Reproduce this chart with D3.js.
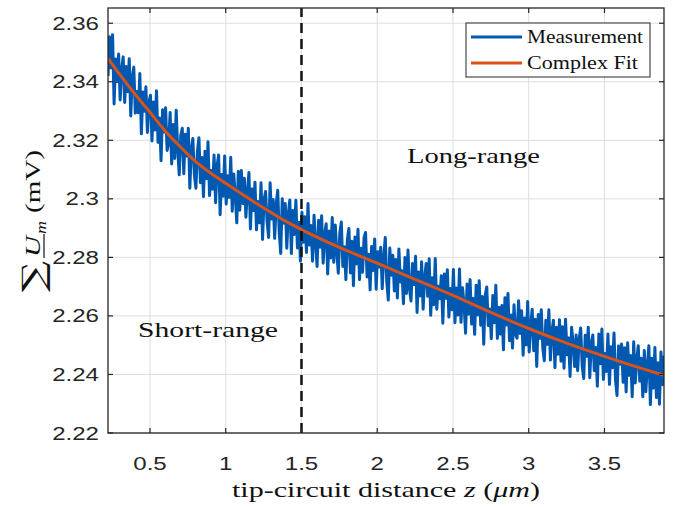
<!DOCTYPE html>
<html>
<head>
<meta charset="utf-8">
<script src="https://cdn.jsdelivr.net/npm/d3@7"></script>
<style>
  body { margin: 0; background: #fff; }
  svg { display: block; }
</style>
</head>
<body>
<div id="chart"></div>
<script>
// sampling of the measurement: first z and step (um)
const xStart = 0.223;
const xStep = 0.01;

const measurement = [
  2.3420, 2.3554, 2.3447, 2.3561, 2.3324, 2.3478, 2.3401, 2.3495, 2.3338, 2.3442,
  2.3485, 2.3329, 2.3452, 2.3366, 2.3479, 2.3283, 2.3416, 2.3450, 2.3293, 2.3367,
  2.3294, 2.3428, 2.3222, 2.3365, 2.3299, 2.3383, 2.3227, 2.3331, 2.3354, 2.3198,
  2.3331, 2.3235, 2.3369, 2.3193, 2.3276, 2.3130, 2.3304, 2.3228, 2.3311, 2.3165,
  2.3190, 2.3295, 2.3119, 2.3254, 2.3138, 2.3303, 2.3167, 2.3082, 2.3216, 2.3241,
  2.3086, 2.3221, 2.3146, 2.3241, 2.3036, 2.3171, 2.3206, 2.3081, 2.3036, 2.3161,
  2.3209, 2.3055, 2.3141, 2.3007, 2.3163, 2.3069, 2.3195, 2.3011, 2.3097, 2.3033,
  2.3150, 2.2987, 2.3113, 2.3150, 2.2946, 2.3083, 2.3009, 2.3146, 2.2982, 2.3079,
  2.3005, 2.3142, 2.2958, 2.3085, 2.3011, 2.2918, 2.3094, 2.2961, 2.3097, 2.2984,
  2.3070, 2.2937, 2.3024, 2.3090, 2.2897, 2.3034, 2.2960, 2.3057, 2.2894, 2.2991,
  2.2918, 2.3055, 2.2861, 2.2998, 2.3025, 2.2921, 2.2868, 2.3055, 2.2931, 2.2998,
  2.2865, 2.2982, 2.3029, 2.2886, 2.2813, 2.3000, 2.2917, 2.2984, 2.2831, 2.2948,
  2.2996, 2.2813, 2.2960, 2.2878, 2.2995, 2.2832, 2.2920, 2.2787, 2.2954, 2.2852,
  2.2939, 2.2817, 2.2984, 2.2842, 2.2909, 2.2787, 2.2944, 2.2852, 2.2769, 2.2927,
  2.2835, 2.2942, 2.2780, 2.2878, 2.2915, 2.2743, 2.2890, 2.2798, 2.2936, 2.2783,
  2.2911, 2.2818, 2.2746, 2.2884, 2.2921, 2.2769, 2.2836, 2.2724, 2.2862, 2.2899,
  2.2747, 2.2855, 2.2703, 2.2870, 2.2778, 2.2896, 2.2724, 2.2831, 2.2749, 2.2867,
  2.2885, 2.2733, 2.2811, 2.2689, 2.2837, 2.2755, 2.2863, 2.2691, 2.2819, 2.2767,
  2.2835, 2.2693, 2.2801, 2.2868, 2.2716, 2.2654, 2.2832, 2.2739, 2.2807, 2.2685,
  2.2793, 2.2661, 2.2829, 2.2716, 2.2754, 2.2642, 2.2800, 2.2677, 2.2825, 2.2693,
  2.2651, 2.2779, 2.2707, 2.2804, 2.2612, 2.2750, 2.2668, 2.2785, 2.2623, 2.2731,
  2.2779, 2.2667, 2.2795, 2.2602, 2.2730, 2.2638, 2.2796, 2.2623, 2.2701, 2.2659,
  2.2737, 2.2575, 2.2743, 2.2660, 2.2758, 2.2596, 2.2694, 2.2621, 2.2759, 2.2577,
  2.2695, 2.2603, 2.2760, 2.2578, 2.2696, 2.2643, 2.2541, 2.2709, 2.2606, 2.2724,
  2.2572, 2.2660, 2.2537, 2.2705, 2.2603, 2.2720, 2.2568, 2.2666, 2.2503, 2.2671,
  2.2699, 2.2567, 2.2624, 2.2522, 2.2670, 2.2577, 2.2705, 2.2523, 2.2630, 2.2538,
  2.2636, 2.2484, 2.2662, 2.2569, 2.2677, 2.2515, 2.2603, 2.2490, 2.2638, 2.2536,
  2.2524, 2.2652, 2.2540, 2.2618, 2.2466, 2.2593, 2.2501, 2.2649, 2.2477, 2.2565,
  2.2623, 2.2481, 2.2589, 2.2427, 2.2605, 2.2523, 2.2621, 2.2489, 2.2447, 2.2585,
  2.2503, 2.2621, 2.2449, 2.2547, 2.2585, 2.2423, 2.2561, 2.2469, 2.2587, 2.2445,
  2.2563, 2.2421, 2.2589, 2.2467, 2.2525, 2.2393, 2.2561, 2.2509, 2.2427, 2.2535,
  2.2413, 2.2521, 2.2559, 2.2428, 2.2386, 2.2534, 2.2462, 2.2561, 2.2389, 2.2507,
  2.2535, 2.2413, 2.2492, 2.2360, 2.2538, 2.2437, 2.2555, 2.2383, 2.2472, 2.2410,
  2.2538, 2.2366, 2.2495, 2.2423, 2.2542, 2.2380, 2.2328, 2.2497, 2.2435, 2.2504,
  2.2373, 2.2491, 2.2340, 2.2508, 2.2397, 2.2465, 2.2324, 2.2512, 2.2371, 2.2449,
  2.2498, 2.2377, 2.2455, 2.2324, 2.2482, 2.2341, 2.2430, 2.2498, 2.2297, 2.2455,
  2.2354, 2.2492, 2.2321, 2.2440, 2.2298, 2.2477, 2.2365, 2.2464
];

// complex fit, read at a few distances
const fitX = [0.223, 0.3, 0.4, 0.5, 0.6, 0.7, 0.8, 0.9, 1.0, 1.2, 1.4, 1.5, 1.75, 2.0,
              2.25, 2.5, 2.75, 3.0, 3.25, 3.5, 3.75, 3.893];
const fitY = [2.3480, 2.3425, 2.3358, 2.3296, 2.3232, 2.3178, 2.3128, 2.3088, 2.3053, 2.2985,
              2.2922, 2.2895, 2.2834, 2.2780, 2.2725, 2.2670, 2.2612, 2.2557, 2.2507, 2.2462,
              2.2420, 2.2397];

const xTicks = [0.5, 1, 1.5, 2, 2.5, 3, 3.5];
const yTicks = [2.22, 2.24, 2.26, 2.28, 2.3, 2.32, 2.34, 2.36];
const boundaryX = 1.5;
const seriesNames = ["Measurement", "Complex Fit"];
const seriesColors = ["#0058b0", "#d95319"];

const width = 681, height = 507;
const margin = { top: 8, right: 17, bottom: 74, left: 108 };
const axisColor = "#262626";
const sansFont = "'Liberation Sans', Arial, sans-serif";
const serifFont = "'Liberation Serif', 'DejaVu Serif', serif";

const svg = d3.select("#chart")
    .append("svg")
    .attr("width", width)
    .attr("height", height);

const x = d3.scaleLinear()
    .domain([0.2228, 3.893])
    .range([margin.left, width - margin.right]);

const y = d3.scaleLinear()
    .domain([2.22, 2.3652])
    .range([height - margin.bottom, margin.top]);

const x0 = margin.left, x1 = width - margin.right;
const y0 = height - margin.bottom, y1 = margin.top;

svg.append("clipPath")
    .attr("id", "plot-clip")
    .append("rect")
    .attr("x", x0)
    .attr("y", y1)
    .attr("width", x1 - x0)
    .attr("height", y0 - y1);

// grid
svg.append("g")
    .selectAll("line")
    .data(xTicks)
    .join("line")
    .attr("x1", d => x(d)).attr("x2", d => x(d))
    .attr("y1", y0).attr("y2", y1)
    .attr("stroke", "#dedede")
    .attr("stroke-width", 1);

svg.append("g")
    .selectAll("line")
    .data(yTicks)
    .join("line")
    .attr("x1", x0).attr("x2", x1)
    .attr("y1", d => y(d)).attr("y2", d => y(d))
    .attr("stroke", "#dedede")
    .attr("stroke-width", 1);

// series
const plot = svg.append("g").attr("clip-path", "url(#plot-clip)");

const measLine = d3.line()
    .x((d, i) => x(xStart + i * xStep))
    .y(d => y(d));

plot.append("path")
    .datum(measurement)
    .attr("d", measLine)
    .attr("fill", "none")
    .attr("stroke", seriesColors[0])
    .attr("stroke-width", 3)
    .attr("stroke-linejoin", "round");

const fitLine = d3.line()
    .x(d => x(d[0]))
    .y(d => y(d[1]))
    .curve(d3.curveMonotoneX);

plot.append("path")
    .datum(d3.zip(fitX, fitY))
    .attr("d", fitLine)
    .attr("fill", "none")
    .attr("stroke", seriesColors[1])
    .attr("stroke-width", 3);

// short/long range boundary
svg.append("line")
    .attr("x1", x(boundaryX)).attr("x2", x(boundaryX))
    .attr("y1", y0).attr("y2", y1)
    .attr("stroke", "#111")
    .attr("stroke-width", 2.5)
    .attr("stroke-dasharray", "10,6");

// box and inward ticks
svg.append("rect")
    .attr("x", x0).attr("y", y1)
    .attr("width", x1 - x0).attr("height", y0 - y1)
    .attr("fill", "none")
    .attr("stroke", axisColor)
    .attr("stroke-width", 1.3);

const tickLen = 5;
const ticks = svg.append("g").attr("stroke", axisColor).attr("stroke-width", 1.2);
xTicks.forEach(t => {
    ticks.append("line").attr("x1", x(t)).attr("x2", x(t)).attr("y1", y0).attr("y2", y0 - tickLen);
    ticks.append("line").attr("x1", x(t)).attr("x2", x(t)).attr("y1", y1).attr("y2", y1 + tickLen);
});
yTicks.forEach(t => {
    ticks.append("line").attr("x1", x0).attr("x2", x0 + tickLen).attr("y1", y(t)).attr("y2", y(t));
    ticks.append("line").attr("x1", x1).attr("x2", x1 - tickLen).attr("y1", y(t)).attr("y2", y(t));
});

// tick labels (the source figure is a little stretched sideways)
const stretch = 1.3;
svg.append("g")
    .selectAll("text")
    .data(yTicks)
    .join("text")
    .attr("transform", d => `translate(${x0 - 9},${y(d) + 6.5}) scale(${stretch},1)`)
    .attr("text-anchor", "end")
    .attr("font-family", sansFont)
    .attr("font-size", 18.5)
    .attr("fill", axisColor)
    .text(d => String(+d.toFixed(2)));

svg.append("g")
    .selectAll("text")
    .data(xTicks)
    .join("text")
    .attr("transform", d => `translate(${x(d)},${y0 + 37}) scale(${stretch},1)`)
    .attr("text-anchor", "middle")
    .attr("font-family", sansFont)
    .attr("font-size", 18.5)
    .attr("fill", axisColor)
    .text(d => String(d));

// x label
const xl = svg.append("text")
    .attr("x", 232)
    .attr("y", 497)
    .attr("font-family", serifFont)
    .attr("font-size", 21)
    .attr("fill", "#111")
    .attr("textLength", 308)
    .attr("lengthAdjust", "spacingAndGlyphs");
xl.append("tspan").text("tip-circuit distance ");
xl.append("tspan").attr("font-style", "italic").text("z");
xl.append("tspan").text(" (");
xl.append("tspan").attr("font-style", "italic").text("μm");
xl.append("tspan").text(")");

// y label
const yl = svg.append("g")
    .attr("transform", "translate(40,221) rotate(-90)")
    .attr("fill", "#111")
    .attr("font-family", serifFont);
yl.append("text")
    .attr("x", -71).attr("y", 4)
    .attr("font-family", "'DejaVu Serif', serif")
    .attr("font-size", 31)
    .attr("textLength", 31)
    .attr("lengthAdjust", "spacingAndGlyphs")
    .text("∑");
yl.append("text")
    .attr("x", -36).attr("y", 0)
    .attr("font-size", 22)
    .attr("font-style", "italic")
    .attr("textLength", 21)
    .attr("lengthAdjust", "spacingAndGlyphs")
    .text("U");
yl.append("line")
    .attr("x1", -37).attr("x2", -13)
    .attr("y1", 4).attr("y2", 4)
    .attr("stroke", "#111")
    .attr("stroke-width", 1.2);
yl.append("text")
    .attr("x", -13).attr("y", 6)
    .attr("font-size", 15)
    .attr("font-style", "italic")
    .attr("textLength", 13)
    .attr("lengthAdjust", "spacingAndGlyphs")
    .text("m");
yl.append("text")
    .attr("x", 8).attr("y", 0)
    .attr("font-size", 22)
    .attr("textLength", 63)
    .attr("lengthAdjust", "spacingAndGlyphs")
    .text("(mV)");

// region annotations
svg.append("text")
    .attr("x", 407).attr("y", 163)
    .attr("font-family", serifFont)
    .attr("font-size", 22)
    .attr("fill", "#111")
    .attr("textLength", 133)
    .attr("lengthAdjust", "spacingAndGlyphs")
    .text("Long-range");

svg.append("text")
    .attr("x", 138).attr("y", 337)
    .attr("font-family", serifFont)
    .attr("font-size", 22)
    .attr("fill", "#111")
    .attr("textLength", 140)
    .attr("lengthAdjust", "spacingAndGlyphs")
    .text("Short-range");

// legend
const legend = svg.append("g");
legend.append("rect")
    .attr("x", 466).attr("y", 23)
    .attr("width", 184).attr("height", 54)
    .attr("fill", "#fff")
    .attr("stroke", axisColor)
    .attr("stroke-width", 1);

const legendWidths = [116, 111];
seriesNames.forEach((name, i) => {
    const ly = 37 + i * 26;
    legend.append("line")
        .attr("x1", 471).attr("x2", 522)
        .attr("y1", ly).attr("y2", ly)
        .attr("stroke", seriesColors[i])
        .attr("stroke-width", 3);
    legend.append("text")
        .attr("x", 527).attr("y", ly + 6)
        .attr("font-family", serifFont)
        .attr("font-size", 19)
        .attr("fill", "#111")
        .attr("textLength", legendWidths[i])
        .attr("lengthAdjust", "spacingAndGlyphs")
        .text(name);
});
</script>
</body>
</html>
